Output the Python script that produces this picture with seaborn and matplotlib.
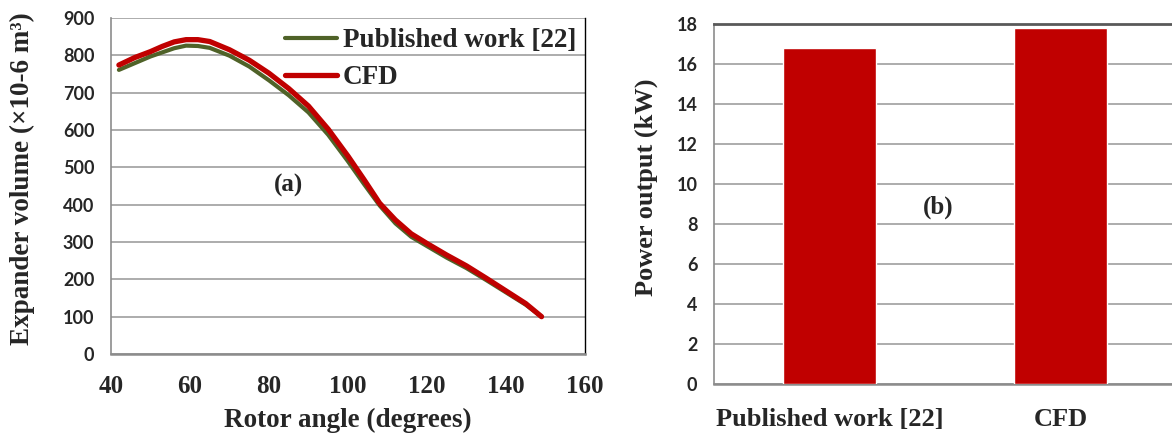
import matplotlib
matplotlib.use("Agg")
import matplotlib.pyplot as plt
import seaborn as sns
import pandas as pd
from matplotlib.ticker import FixedLocator

# ---------------- data ----------------
rotor_angle = [42, 46, 50, 53, 56, 59, 62, 65, 70, 75, 80, 85, 90, 95, 100, 104, 108,
               112, 116, 120, 125, 130, 135, 140, 145, 149]
volume_published = [761, 779, 797, 808, 819, 826, 825, 820, 799, 770, 733, 693, 647, 587,
                    516, 456, 398, 350, 314, 289, 258, 230, 198, 165, 132, 100]
volume_cfd = [774, 794, 810, 824, 836, 842, 842, 837, 815, 787, 752, 711, 664, 602,
              530, 468, 404, 359, 322, 296, 265, 236, 203, 169, 135, 100]
series_names = ["Published work [22]", "CFD"]

bar_categories = ["Published work [22]", "CFD"]
power_output = [16.8, 17.8]

# ---------------- style ----------------
sns.set_theme(style="white")
plt.rcParams["font.family"] = ["Liberation Serif", "DejaVu Serif"]
serif = ["Liberation Serif", "DejaVu Serif"]
tickfont = ["Lato", "DejaVu Sans"]

GREEN = "#4F6228"
RED = "#C00000"
GRID = "#A6A6A6"
AXIS = "#8C8C8C"

W, H = 1172, 434
fig = plt.figure(figsize=(W / 100, H / 100), dpi=100)

# ---------------- panel (a) ----------------
ax1 = fig.add_axes([111 / W, 1 - 354 / H, (585 - 111) / W, (354 - 18) / H])
df_line = pd.DataFrame({
    "angle": rotor_angle * 2,
    "volume": volume_published + volume_cfd,
    "series": [series_names[0]] * len(rotor_angle) + [series_names[1]] * len(rotor_angle),
})
sns.lineplot(data=df_line[df_line.series == series_names[0]], x="angle", y="volume",
             color=GREEN, lw=3.0, ax=ax1, label=series_names[0], zorder=3)
sns.lineplot(data=df_line[df_line.series == series_names[1]], x="angle", y="volume",
             color=RED, lw=3.8, ax=ax1, label=series_names[1], zorder=4)
for ln in ax1.get_lines():
    ln.set_solid_joinstyle("round")
    ln.set_solid_capstyle("round")

ax1.set_xlim(40, 160)
ax1.set_ylim(0, 900)
ax1.set_xticks(range(40, 161, 20))
ax1.set_yticks(range(0, 901, 100))
ax1.yaxis.grid(True, color=GRID, lw=1.3)
ax1.set_axisbelow(True)
ax1.spines["top"].set_visible(False)
ax1.spines["left"].set_color(AXIS)
ax1.spines["left"].set_linewidth(1.2)
ax1.spines["bottom"].set_color(AXIS)
ax1.spines["bottom"].set_linewidth(1.8)
ax1.spines["right"].set_color("black")
ax1.spines["right"].set_linewidth(1.0)
ax1.tick_params(axis="x", direction="out", length=7, width=1.2, color=AXIS, pad=8)
ax1.tick_params(axis="y", direction="out", length=6, width=1.2, color=AXIS, pad=6)
for lab in ax1.get_xticklabels():
    lab.set_fontfamily(serif); lab.set_fontweight("bold"); lab.set_fontsize(18)
for lab in ax1.get_yticklabels():
    lab.set_fontfamily(tickfont); lab.set_fontweight("bold"); lab.set_fontsize(13)
ax1.set_xlabel("Rotor angle (degrees)", fontfamily=serif, fontweight="bold",
               fontsize=19.5, labelpad=7)
ax1.set_ylabel("Expander volume (×10-6 m³)", fontfamily=serif,
               fontweight="bold", fontsize=19.5)
ax1.yaxis.set_label_coords((35 - 111) / 474, (354 - 179) / 336)
leg = ax1.legend(loc="upper right", bbox_to_anchor=(1.01, 1.01), frameon=False,
                 prop={"family": serif, "weight": "bold", "size": 19.5},
                 handlelength=1.95, handletextpad=0.2, labelspacing=0.45,
                 borderaxespad=0.1)
ax1.text(85, 451, "(a)", fontfamily=serif, fontweight="bold", fontsize=18,
         ha="center", va="center")

# ---------------- panel (b) ----------------
ax2 = fig.add_axes([714 / W, 1 - 384 / H, (1176 - 714) / W, (384 - 24) / H])
df_bar = pd.DataFrame({"category": bar_categories, "power": power_output})
sns.barplot(data=df_bar, x="category", y="power", color=RED, saturation=1,
            width=0.4, ax=ax2, zorder=3)
ax2.set_xlim(-0.5, 1.5)
ax2.set_ylim(0, 18)
ax2.set_yticks(range(0, 19, 2))
ax2.yaxis.grid(True, color=GRID, lw=1.3)
ax2.set_axisbelow(True)
ax2.spines["top"].set_color("#595959")
ax2.spines["top"].set_linewidth(2.0)
ax2.spines["right"].set_visible(False)
ax2.spines["left"].set_color(AXIS)
ax2.spines["left"].set_linewidth(1.2)
ax2.spines["bottom"].set_color(AXIS)
ax2.spines["bottom"].set_linewidth(1.8)
ax2.xaxis.set_minor_locator(FixedLocator([-0.5, 0.5, 1.5]))
ax2.tick_params(axis="x", which="major", length=0, pad=17)
ax2.tick_params(axis="x", which="minor", direction="out", length=7, width=1.2, color=AXIS)
ax2.tick_params(axis="y", direction="out", length=6, width=1.2, color=AXIS, pad=6)
for lab in ax2.get_xticklabels():
    lab.set_fontfamily(serif); lab.set_fontweight("bold"); lab.set_fontsize(19)
for lab in ax2.get_yticklabels():
    lab.set_fontfamily(tickfont); lab.set_fontweight("bold"); lab.set_fontsize(13)
ax2.set_xlabel("")
ax2.set_ylabel("Power output (kW)", fontfamily=serif, fontweight="bold",
               fontsize=19)
ax2.yaxis.set_label_coords((658 - 714) / 462, (384 - 187) / 360)
ax2.text(0.47, 8.85, "(b)", fontfamily=serif, fontweight="bold", fontsize=18,
         ha="center", va="center")

fig.savefig("out.png", dpi=100)
